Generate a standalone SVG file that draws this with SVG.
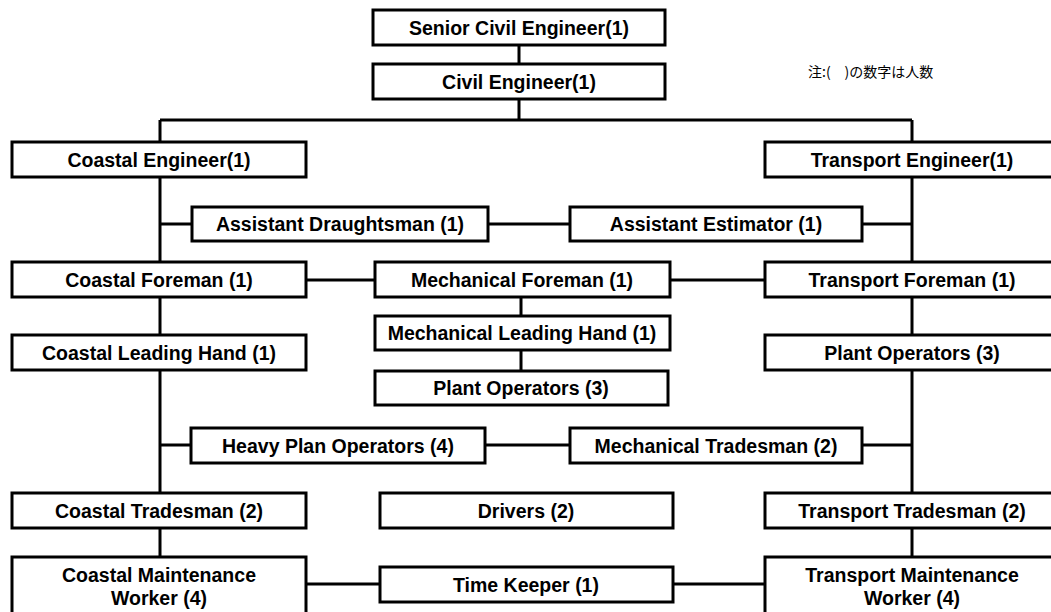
<svg xmlns="http://www.w3.org/2000/svg" width="1051" height="612" viewBox="0 0 1051 612">
<style>
.b{fill:#fff;stroke:#000;stroke-width:3}
.t{font-family:"Liberation Sans",Arial,sans-serif;font-weight:bold;font-size:19.5px;text-anchor:middle;fill:#000}
.c{stroke:#000;stroke-width:3;fill:none}
.n{font-family:"Noto Sans CJK JP","Noto Sans CJK SC",sans-serif;font-size:14px;fill:#000}
</style>
<rect width="1051" height="612" fill="#fff"/>
<g id="connectors">
<path class="c" d="M519 45V64M519 99V120M160 120H912M160 120V142M912 120V142"/>
<path class="c" d="M160 177V262M912 177V262M160 224H192M488 224H570M862 224H912"/>
<path class="c" d="M306 280H375M670 280H765M521 297V316M521 350V371"/>
<path class="c" d="M160 297V335M912 297V335M160 370V493M912 370V493M160 445H191M485 445H570M862 445H912"/>
<path class="c" d="M160 528V557M912 528V557M306 584H380M673 584H765"/>
</g>
<g id="senior"><rect class="b" x="373" y="10" width="292" height="35"/><text class="t" x="519" y="35">Senior Civil Engineer(1)</text></g>
<g id="civil"><rect class="b" x="373" y="64" width="292" height="35"/><text class="t" x="519" y="89">Civil Engineer(1)</text></g>
<g id="note"><text class="n" x="808" y="77">注:(　)の数字は人数</text></g>
<g id="coastal-eng"><rect class="b" x="12" y="142" width="294" height="35"/><text class="t" x="159" y="167">Coastal Engineer(1)</text></g>
<g id="transport-eng"><rect class="b" x="765" y="142" width="300" height="35"/><text class="t" x="912" y="167">Transport Engineer(1)</text></g>
<g id="asst-draught"><rect class="b" x="192" y="207" width="296" height="34"/><text class="t" x="340" y="231">Assistant Draughtsman (1)</text></g>
<g id="asst-est"><rect class="b" x="570" y="207" width="292" height="34"/><text class="t" x="716" y="231">Assistant Estimator (1)</text></g>
<g id="coastal-foreman"><rect class="b" x="12" y="262" width="294" height="35"/><text class="t" x="159" y="287">Coastal Foreman (1)</text></g>
<g id="mech-foreman"><rect class="b" x="375" y="262" width="295" height="35"/><text class="t" x="522" y="287">Mechanical Foreman (1)</text></g>
<g id="transport-foreman"><rect class="b" x="765" y="262" width="300" height="35"/><text class="t" x="912" y="287">Transport Foreman (1)</text></g>
<g id="mech-leading"><rect class="b" x="375" y="316" width="295" height="34"/><text class="t" x="522" y="340">Mechanical Leading Hand (1)</text></g>
<g id="mech-plant"><rect class="b" x="375" y="371" width="293" height="34"/><text class="t" x="521" y="395">Plant Operators (3)</text></g>
<g id="coastal-leading"><rect class="b" x="12" y="335" width="294" height="35"/><text class="t" x="159" y="360">Coastal Leading Hand (1)</text></g>
<g id="transport-plant"><rect class="b" x="765" y="335" width="300" height="35"/><text class="t" x="912" y="360">Plant Operators (3)</text></g>
<g id="heavy-plan"><rect class="b" x="191" y="428" width="294" height="35"/><text class="t" x="338" y="453">Heavy Plan Operators (4)</text></g>
<g id="mech-trades"><rect class="b" x="570" y="428" width="292" height="35"/><text class="t" x="716" y="453">Mechanical Tradesman (2)</text></g>
<g id="coastal-trades"><rect class="b" x="12" y="493" width="294" height="35"/><text class="t" x="159" y="518">Coastal Tradesman (2)</text></g>
<g id="drivers"><rect class="b" x="380" y="493" width="293" height="35"/><text class="t" x="526" y="518">Drivers (2)</text></g>
<g id="transport-trades"><rect class="b" x="765" y="493" width="300" height="35"/><text class="t" x="912" y="518">Transport Tradesman (2)</text></g>
<g id="coastal-maint"><rect class="b" x="12" y="557" width="294" height="60"/><text class="t" x="159" y="582">Coastal Maintenance</text><text class="t" x="159" y="605">Worker (4)</text></g>
<g id="timekeeper"><rect class="b" x="380" y="567" width="293" height="35"/><text class="t" x="526" y="592">Time Keeper (1)</text></g>
<g id="transport-maint"><rect class="b" x="765" y="557" width="300" height="60"/><text class="t" x="912" y="582">Transport Maintenance</text><text class="t" x="912" y="605">Worker (4)</text></g>
</svg>
